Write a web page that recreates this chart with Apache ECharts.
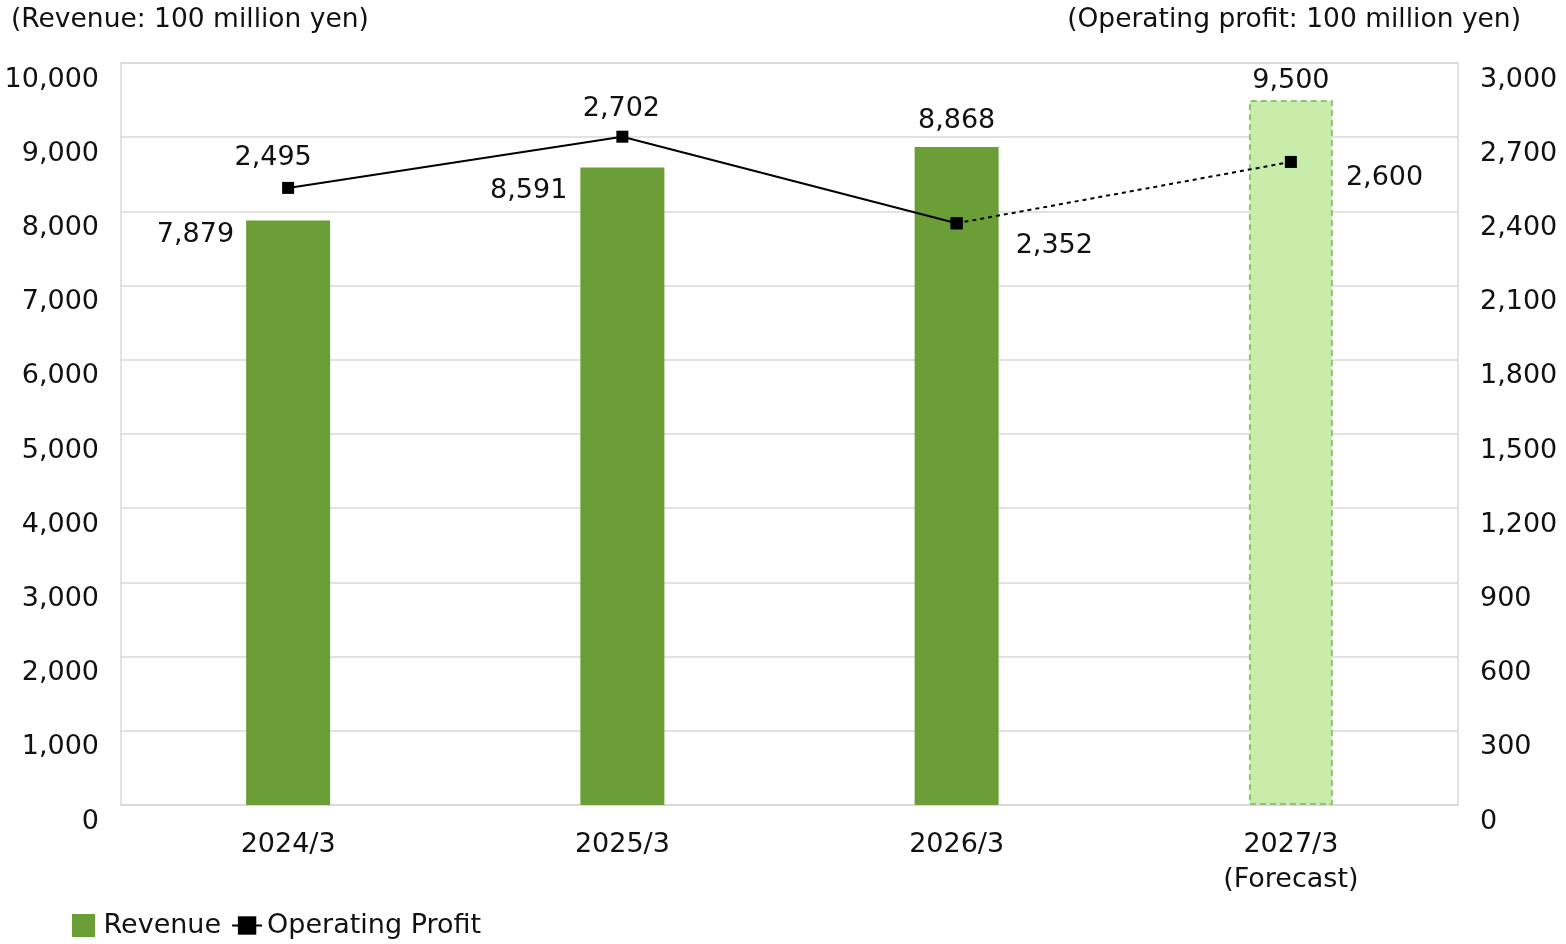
<!DOCTYPE html>
<html><head><meta charset="utf-8">
<script src="https://cdn.jsdelivr.net/npm/echarts@6/dist/echarts.min.js"></script>
<style>html,body{margin:0;padding:0;background:#fff}#c{width:1566px;height:944px}</style>
</head><body><div id="c"></div>
<script>
const categories = ['2024/3', '2025/3', '2026/3', '2027/3\n(Forecast)'];
const revenue = [7879, 8591, 8868, 9500];
const operatingProfit = [2495, 2702, 2352, 2600];
const revenueTicks = {min: 0, max: 10000, interval: 1000};
const profitTicks = {min: 0, max: 3000, interval: 300};

const FONT = '"DejaVu Sans", "Noto Sans", sans-serif';
const fmt = v => Number(v).toLocaleString('en-US');

const barLabelCfg = [
  {position: [-12, 15], align: 'right', verticalAlign: 'middle'},
  {position: [-13, 23], align: 'right', verticalAlign: 'middle'},
  {position: [42, -26], align: 'center', verticalAlign: 'middle'},
  {position: [42, -19], align: 'center', verticalAlign: 'middle'}
];
const barData = revenue.map((v, i) => {
  const d = {value: v, label: Object.assign({show: true}, barLabelCfg[i])};
  if (i === 3) d.itemStyle = {color: '#c8ecaa', borderColor: '#8fc368', borderType: [6, 4], borderWidth: 2};
  return d;
});
const lineLabelCfg = [
  {position: 'top', offset: [-15, -5]},
  {position: 'top', offset: [-1, -3]},
  {position: 'right', offset: [48, 23]},
  {position: 'right', offset: [44, 16]}
];
const solidData = operatingProfit.map((v, i) => i < 3 ? {value: v, label: Object.assign({show: true}, lineLabelCfg[i])} : null);
const dottedData = operatingProfit.map((v, i) => i >= 2 ? {value: v, label: Object.assign({show: i === 3}, lineLabelCfg[i])} : null);

const textStyle = {fontFamily: FONT, fontSize: 27, color: '#111'};
const chart = echarts.init(document.getElementById('c'));
chart.setOption({
  animation: false,
  textStyle: {fontFamily: FONT},
  title: [
    {text: '(Revenue: 100 million yen)', left: 6, top: 2, textStyle: {fontFamily: FONT, fontSize: 26.5, fontWeight: 'normal', color: '#111'}},
    {text: '(Operating profit: 100 million yen)', right: 40, top: 2, textStyle: {fontFamily: FONT, fontSize: 26.5, fontWeight: 'normal', color: '#111'}}
  ],
  legend: {
    left: 67, top: 907, itemGap: 10, itemWidth: 30, itemHeight: 23, symbolKeepAspect: true,
    textStyle: {fontFamily: FONT, fontSize: 27, color: '#111'},
    data: [{name: 'Revenue', icon: 'path://M0,0h10v10h-10z'}, {name: 'Operating Profit'}]
  },
  grid: {left: 121, right: 108, top: 63, bottom: 139, show: true, borderColor: '#d9d9d9', borderWidth: 1.5},
  xAxis: {
    type: 'category', data: categories,
    axisLine: {lineStyle: {color: '#d9d9d9', width: 1.5}},
    axisTick: {show: false},
    axisLabel: Object.assign({}, textStyle, {margin: 22, lineHeight: 35})
  },
  yAxis: [
    Object.assign({type: 'value', position: 'left'}, revenueTicks, {
      axisLine: {show: false}, axisTick: {show: false},
      splitLine: {lineStyle: {color: '#d9d9d9', width: 1.5}},
      axisLabel: Object.assign({}, textStyle, {margin: 22, verticalAlign: 'top', padding: [3, 0, 0, 0], formatter: fmt})
    }),
    Object.assign({type: 'value', position: 'right'}, profitTicks, {
      axisLine: {show: false}, axisTick: {show: false}, splitLine: {show: false},
      axisLabel: Object.assign({}, textStyle, {margin: 22, verticalAlign: 'top', padding: [3, 0, 0, 0], formatter: fmt})
    })
  ],
  series: [
    {
      name: 'Revenue', type: 'bar', yAxisIndex: 0, barWidth: 84,
      itemStyle: {color: '#6b9e37'},
      label: Object.assign({}, textStyle, {formatter: p => fmt(p.value)}),
      data: barData
    },
    {
      name: 'Operating Profit', type: 'line', yAxisIndex: 1,
      symbol: 'rect', symbolSize: 12,
      lineStyle: {color: '#000', width: 2}, itemStyle: {color: '#000'},
      label: Object.assign({}, textStyle, {formatter: p => fmt(p.value)}),
      data: solidData, z: 5
    },
    {
      name: 'Operating Profit', type: 'line', yAxisIndex: 1,
      symbol: 'rect', symbolSize: 12,
      lineStyle: {color: '#000', width: 2, type: [4, 4]}, itemStyle: {color: '#000'},
      label: Object.assign({}, textStyle, {formatter: p => fmt(p.value)}),
      data: dottedData, z: 5
    }
  ]
});
</script></body></html>
